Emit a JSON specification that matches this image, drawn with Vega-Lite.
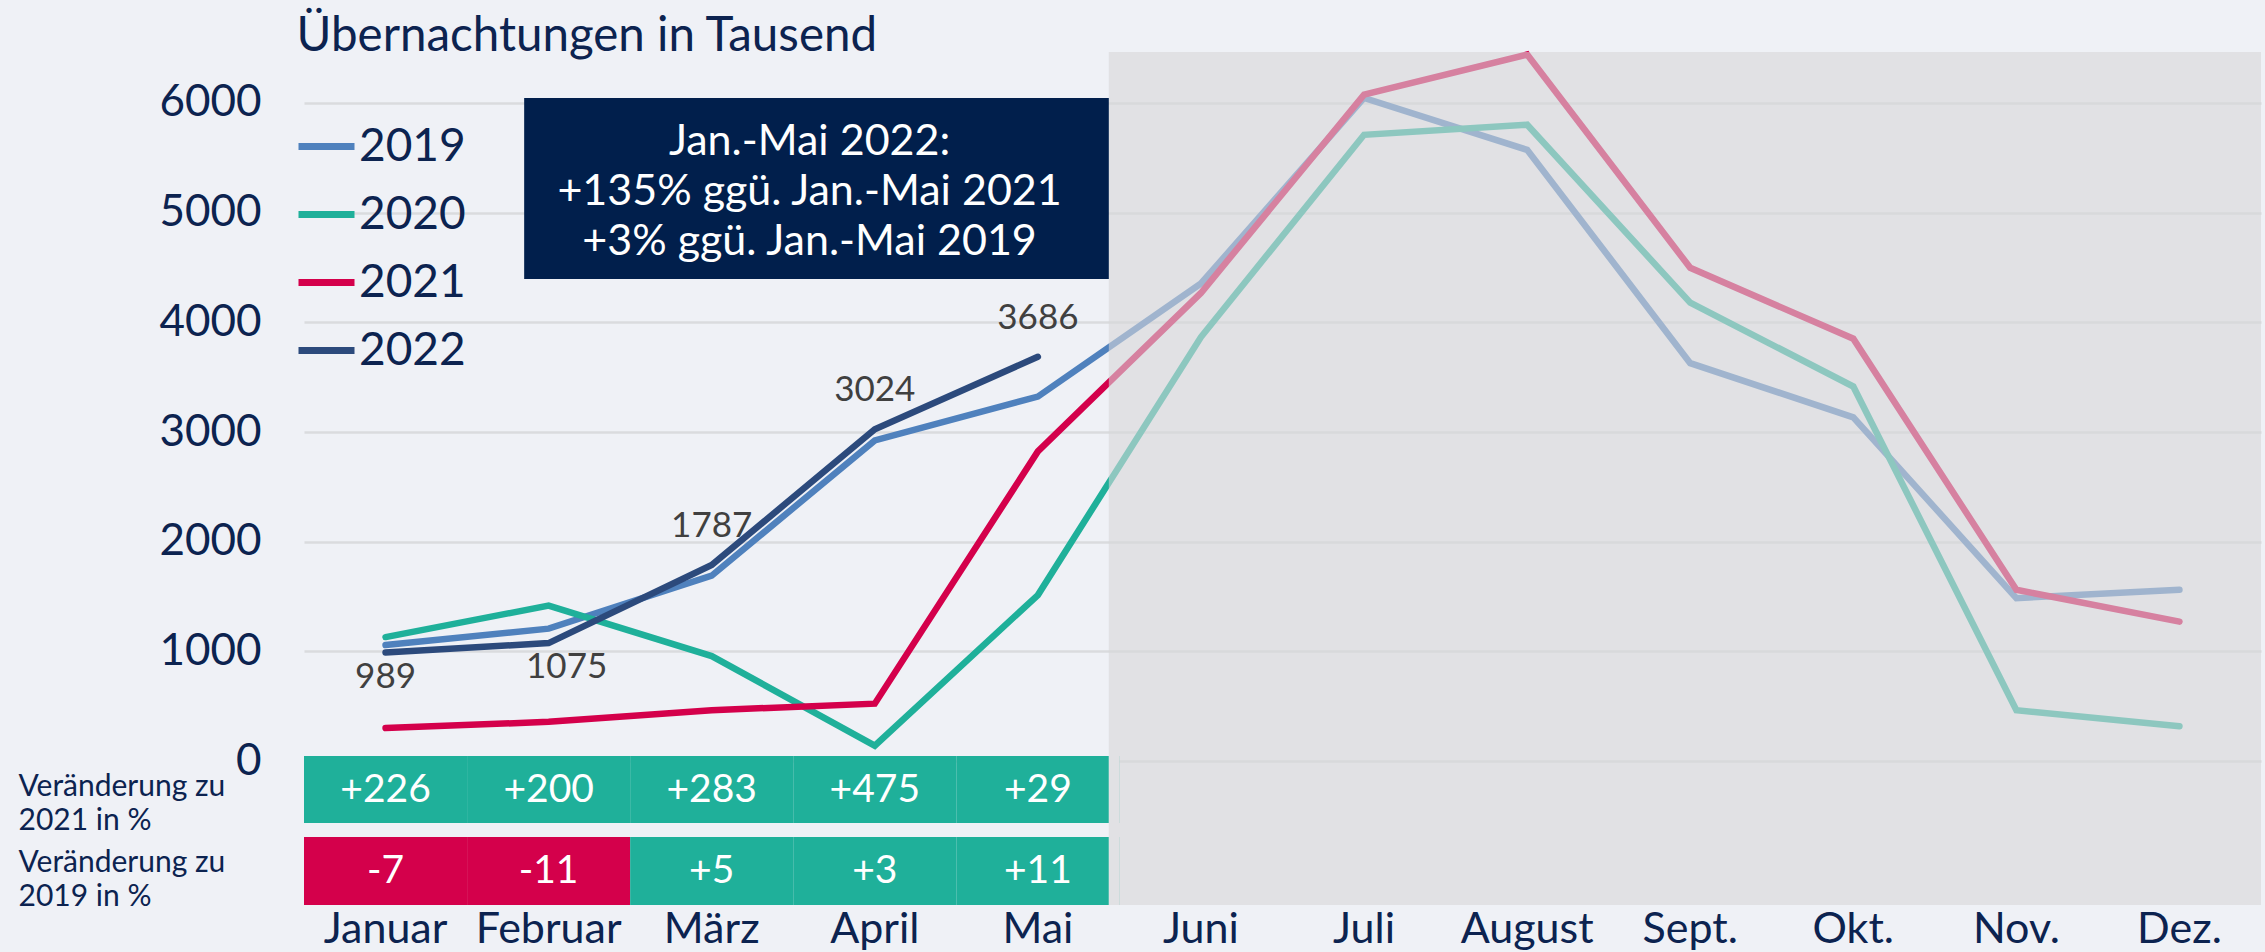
{
  "$schema": "https://vega.github.io/schema/vega-lite/v6.json",
  "width": 1957,
  "height": 853,
  "autosize": {"type": "none"},
  "padding": {"left": 304, "top": 52, "right": 4, "bottom": 47},
  "background": "#eff1f6",
  "config": {
    "view": {"stroke": null},
    "font": "Lato",
    "locale": {"number": {"decimal": ".", "thousands": "", "grouping": [3], "currency": ["", ""], "minus": "-"}}
  },
  "datasets": {
    "lines": [
      {"year": "2019", "month": "Januar", "value": 1057},
      {"year": "2019", "month": "Februar", "value": 1207},
      {"year": "2019", "month": "März", "value": 1690},
      {"year": "2019", "month": "April", "value": 2923},
      {"year": "2019", "month": "Mai", "value": 3323},
      {"year": "2019", "month": "Juni", "value": 4354},
      {"year": "2019", "month": "Juli", "value": 6046},
      {"year": "2019", "month": "August", "value": 5573},
      {"year": "2019", "month": "Sept.", "value": 3628},
      {"year": "2019", "month": "Okt.", "value": 3134},
      {"year": "2019", "month": "Nov.", "value": 1485},
      {"year": "2019", "month": "Dez.", "value": 1561},
      {"year": "2020", "month": "Januar", "value": 1130},
      {"year": "2020", "month": "Februar", "value": 1417},
      {"year": "2020", "month": "März", "value": 957},
      {"year": "2020", "month": "April", "value": 140},
      {"year": "2020", "month": "Mai", "value": 1513},
      {"year": "2020", "month": "Juni", "value": 3866},
      {"year": "2020", "month": "Juli", "value": 5710},
      {"year": "2020", "month": "August", "value": 5802},
      {"year": "2020", "month": "Sept.", "value": 4180},
      {"year": "2020", "month": "Okt.", "value": 3415},
      {"year": "2020", "month": "Nov.", "value": 463},
      {"year": "2020", "month": "Dez.", "value": 317},
      {"year": "2021", "month": "Januar", "value": 300},
      {"year": "2021", "month": "Februar", "value": 357},
      {"year": "2021", "month": "März", "value": 463},
      {"year": "2021", "month": "April", "value": 523},
      {"year": "2021", "month": "Mai", "value": 2823},
      {"year": "2021", "month": "Juni", "value": 4268},
      {"year": "2021", "month": "Juli", "value": 6076},
      {"year": "2021", "month": "August", "value": 6442},
      {"year": "2021", "month": "Sept.", "value": 4497},
      {"year": "2021", "month": "Okt.", "value": 3851},
      {"year": "2021", "month": "Nov.", "value": 1561},
      {"year": "2021", "month": "Dez.", "value": 1271},
      {"year": "2022", "month": "Januar", "value": 989},
      {"year": "2022", "month": "Februar", "value": 1075},
      {"year": "2022", "month": "März", "value": 1787},
      {"year": "2022", "month": "April", "value": 3024},
      {"year": "2022", "month": "Mai", "value": 3686}
    ],
    "table": [
      {"month": "Januar", "d2021": 226, "d2019": -7},
      {"month": "Februar", "d2021": 200, "d2019": -11},
      {"month": "März", "d2021": 283, "d2019": 5},
      {"month": "April", "d2021": 475, "d2019": 3},
      {"month": "Mai", "d2021": 29, "d2019": 11}
    ]
  },
  "layer": [
    {
      "data": {"name": "lines"},
      "mark": {"type": "line", "strokeWidth": 6.5, "strokeCap": "round"},
      "encoding": {
        "x": {
          "field": "month", "type": "ordinal",
          "scale": {"type": "band", "domain": ["Januar", "Februar", "März", "April", "Mai", "Juni", "Juli", "August", "Sept.", "Okt.", "Nov.", "Dez."], "paddingInner": 0, "paddingOuter": 0},
          "axis": {"title": null, "domain": false, "ticks": false, "grid": false, "labelFontSize": 43, "labelFont": "Lato", "labelColor": "#0c2350", "labelPadding": 37, "labelBaseline": "alphabetic", "labelAngle": 0}
        },
        "y": {
          "field": "value", "type": "quantitative",
          "scale": {"domain": [-1313, 6465], "nice": false, "zero": false},
          "axis": {
            "values": [-921, -228, 0, 1000, 2000, 3000, 4000, 5000, 6000],
            "format": "d",
            "labelExpr": "datum.value == -228 ? ['Veränderung zu', '2021 in %'] : datum.value == -921 ? ['Veränderung zu', '2019 in %'] : datum.label",
            "title": "Übernachtungen in Tausend",
            "titleAngle": 0, "titleAlign": "left", "titleBaseline": "alphabetic",
            "titleX": -8, "titleY": -2,
            "titleFont": "Lato", "titleFontSize": 47.5, "titleFontWeight": "normal", "titleColor": "#0c2350",
            "domain": false, "ticks": false,
            "labelFont": "Lato",
            "labelColor": "#0c2350",
            "labelFontSize": {"condition": {"test": "datum.value < 0", "value": 30}, "value": 44},
            "labelAlign": {"condition": {"test": "datum.value < 0", "value": "left"}, "value": "right"},
            "labelPadding": {"condition": {"test": "datum.value < 0", "value": 286}, "value": 43},
            "labelBaseline": "middle",
            "labelLineHeight": 34,
            "labelLimit": 0,
            "labelOverlap": false,
            "labelFlush": false,
            "gridColor": "#dadbde",
            "gridWidth": 2.5,
            "gridOpacity": {"condition": {"test": "datum.value < 0", "value": 0}, "value": 1}
          }
        },
        "color": {
          "field": "year", "type": "nominal",
          "scale": {"domain": ["2019", "2020", "2021", "2022"], "range": ["#4f81bd", "#1fb09a", "#d4004b", "#2c4a7c"]},
          "legend": {"title": null, "orient": "none", "legendX": -9, "legendY": 63, "symbolType": "stroke", "symbolSize": 3136, "symbolStrokeWidth": 7, "labelFontSize": 46, "labelFont": "Lato", "labelColor": "#0c2350", "labelOffset": 1, "rowPadding": 13, "padding": 0}
        },
        "order": {"value": null}
      }
    },
    {
      "data": {"name": "table"},
      "mark": {"type": "rect"},
      "encoding": {
        "x": {"field": "month", "type": "ordinal"},
        "y": {"datum": 46, "type": "quantitative"},
        "y2": {"datum": -565},
        "color": {"condition": {"test": "datum.d2021 < 0", "value": "#d4004b"}, "value": "#1fb09a"}
      }
    },
    {
      "data": {"name": "table"},
      "mark": {"type": "text", "font": "Lato", "fontSize": 39, "color": "#ffffff", "baseline": "middle"},
      "encoding": {
        "x": {"field": "month", "type": "ordinal"},
        "y": {"datum": -260, "type": "quantitative"},
        "text": {"field": "d2021", "type": "quantitative", "format": "+d"}
      }
    },
    {
      "data": {"name": "table"},
      "mark": {"type": "rect"},
      "encoding": {
        "x": {"field": "month", "type": "ordinal"},
        "y": {"datum": -693, "type": "quantitative"},
        "y2": {"datum": -1313},
        "color": {"condition": {"test": "datum.d2019 < 0", "value": "#d4004b"}, "value": "#1fb09a"}
      }
    },
    {
      "data": {"name": "table"},
      "mark": {"type": "text", "font": "Lato", "fontSize": 39, "color": "#ffffff", "baseline": "middle"},
      "encoding": {
        "x": {"field": "month", "type": "ordinal"},
        "y": {"datum": -1003, "type": "quantitative"},
        "text": {"field": "d2019", "type": "quantitative", "format": "+d"}
      }
    },
    {
      "data": {"values": [{}]},
      "mark": {"type": "rect", "fill": "#eff1f6"},
      "encoding": {
        "x": {"datum": "Mai", "type": "ordinal", "bandPosition": 0.935},
        "x2": {"datum": "Juni", "bandPosition": 0},
        "y": {"datum": 50, "type": "quantitative"},
        "y2": {"datum": -1313}
      }
    },
    {
      "data": {"values": [{}]},
      "mark": {"type": "rect", "fill": "rgb(215,215,216)", "opacity": 0.6},
      "encoding": {
        "x": {"datum": "Mai", "type": "ordinal", "bandPosition": 0.935},
        "x2": {"datum": "Dez.", "bandPosition": 1},
        "y": {"datum": 6465, "type": "quantitative"},
        "y2": {"datum": -1313}
      }
    },
    {
      "data": {"name": "lines"},
      "transform": [{"filter": "datum.year == '2022' && datum.month == 'Januar'"}],
      "mark": {"type": "text", "font": "Lato", "fontSize": 35, "color": "#404040", "baseline": "middle", "dy": 24},
      "encoding": {
        "x": {"field": "month", "type": "ordinal"},
        "y": {"field": "value", "type": "quantitative"},
        "text": {"field": "value", "type": "quantitative", "format": "d"}
      }
    },
    {
      "data": {"name": "lines"},
      "transform": [{"filter": "datum.year == '2022' && datum.month == 'Februar'"}],
      "mark": {"type": "text", "font": "Lato", "fontSize": 35, "color": "#404040", "baseline": "middle", "dy": 24, "dx": 18},
      "encoding": {
        "x": {"field": "month", "type": "ordinal"},
        "y": {"field": "value", "type": "quantitative"},
        "text": {"field": "value", "type": "quantitative", "format": "d"}
      }
    },
    {
      "data": {"name": "lines"},
      "transform": [{"filter": "datum.year == '2022' && datum.month != 'Januar' && datum.month != 'Februar'"}],
      "mark": {"type": "text", "font": "Lato", "fontSize": 35, "color": "#404040", "baseline": "middle", "dy": -39},
      "encoding": {
        "x": {"field": "month", "type": "ordinal"},
        "y": {"field": "value", "type": "quantitative"},
        "text": {"field": "value", "type": "quantitative", "format": "d"}
      }
    },
    {
      "data": {"values": [{}]},
      "mark": {"type": "rect", "fill": "#011f4c"},
      "encoding": {
        "x": {"datum": "Februar", "type": "ordinal", "bandPosition": 0.35},
        "x2": {"datum": "Mai", "bandPosition": 0.935},
        "y": {"datum": 6045, "type": "quantitative"},
        "y2": {"datum": 4395}
      }
    },
    {
      "data": {"values": [{}]},
      "mark": {"type": "text", "font": "Lato", "fontSize": 43, "color": "#ffffff", "baseline": "middle", "align": "center", "lineHeight": 50, "text": ["Jan.-Mai 2022:", "+135% ggü. Jan.-Mai 2021", "+3% ggü. Jan.-Mai 2019"]},
      "encoding": {
        "x": {"datum": "April", "type": "ordinal", "bandPosition": 0.1},
        "y": {"datum": 5648, "type": "quantitative"}
      }
    }
  ]
}
